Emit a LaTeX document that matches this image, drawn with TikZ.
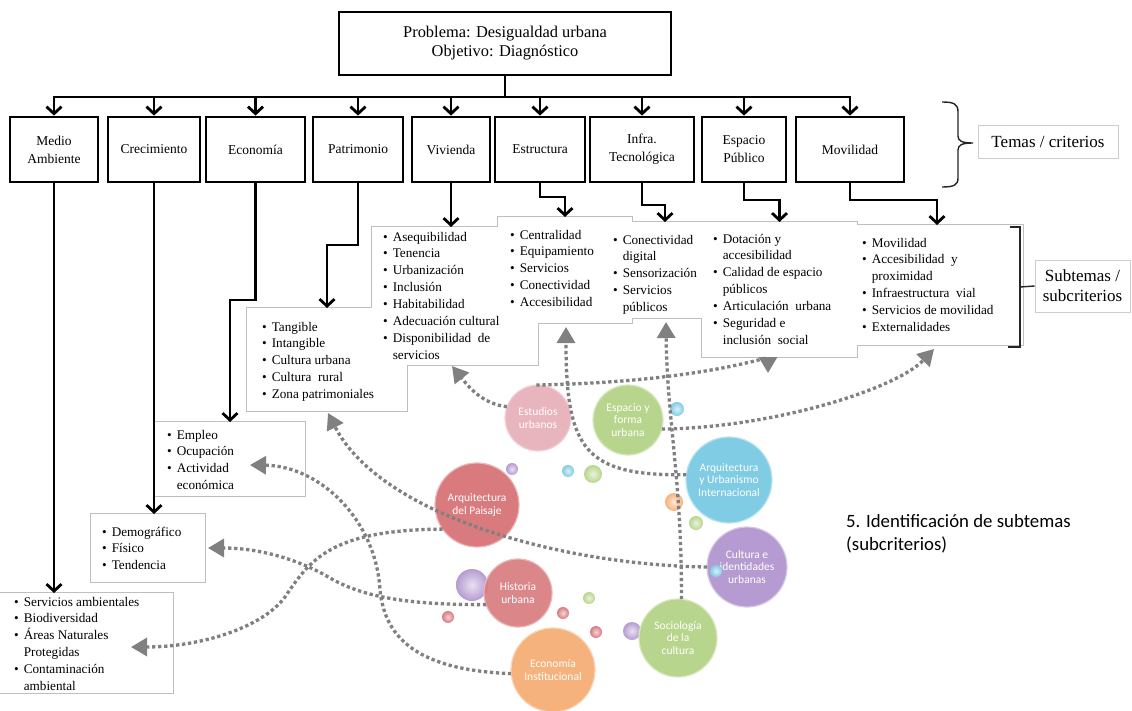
\documentclass[tikz,border=0pt]{standalone}
\usepackage{fontspec}
\setmainfont{Liberation Serif}
\newfontfamily\calib{Carlito}
\usetikzlibrary{arrows.meta}
\pgfdeclarelayer{paper}
\pgfdeclarelayer{boxline}
\pgfdeclarelayer{boxfill}
\pgfsetlayers{paper,boxline,boxfill,main}
\definecolor{dotgray}{HTML}{808080}
\definecolor{frame}{HTML}{BFBFBF}
\definecolor{bpink}{HTML}{E8B4BD}
\definecolor{bgreen}{HTML}{B8D58D}
\definecolor{bblue}{HTML}{80CCE4}
\definecolor{bred}{HTML}{D87A7E}
\definecolor{bpurple}{HTML}{B59BD1}
\definecolor{borange}{HTML}{F6B27C}
\newcommand{\itm}{\textbullet}
\newenvironment{blist}{\begin{tabular}{@{}l@{\hspace{5pt}}l@{}}}{\end{tabular}}

\begin{document}
\begin{tikzpicture}[x=1pt,y=-1pt,
  >={Straight Barb[length=7pt,width=15pt]},
  blk/.style={line width=2.8pt,black},
  tema/.style={draw=black,line width=2.8pt,fill=white,rectangle,minimum height=65pt,
    inner sep=0pt,align=center,font=\fontsize{13.5}{18}\selectfont},
  subarea/.style={rectangle,inner sep=0pt,outer sep=0pt},
  subtxt/.style={anchor=north west,inner sep=0pt,font=\fontsize{13.2}{16.9}\selectfont},
  bub/.style={circle,inner sep=0pt,outer sep=0pt,text=white,align=center,
    font=\calib\fontsize{11.5}{12.7}\selectfont,line width=1.2pt},
  dotlink/.style={dotgray,line width=3.3pt,dash pattern=on 3.3pt off 2.7pt,
    -{Triangle[length=16pt,width=18pt]}},
  brk/.style={line width=1.4pt,black!85},
  labelbox/.style={draw=black!20,line width=0.8pt,fill=white,inner sep=0pt,align=center,
    font=\fontsize{17}{20}\selectfont}
]
\useasboundingbox (0,0) rectangle (1132,711);
\begin{pgfonlayer}{paper}
  \fill[white] (0,0) rectangle (1132,711);
\end{pgfonlayer}

% ---------- problem and themes ----------
\node[tema,minimum width=332pt,minimum height=63pt,font=\fontsize{16.4}{19}\selectfont]
  (tt) at (505,43.5) {Problema: Desigualdad urbana\\Objetivo: Diagnóstico};

\node[tema,minimum width=88pt]  (ma) at (54,149.5)  {Medio\\Ambiente};
\node[tema,minimum width=92pt]  (cr) at (154,149.5) {Crecimiento};
\node[tema,minimum width=99pt]  (ec) at (255.5,149.5) {Economía};
\node[tema,minimum width=90pt]  (pa) at (358,149.5) {Patrimonio};
\node[tema,minimum width=78pt]  (vi) at (451,149.5) {Vivienda};
\node[tema,minimum width=90pt]  (es) at (540,149.5) {Estructura};
\node[tema,minimum width=104pt] (it) at (642,149.5) {Infra.\\Tecnológica};
\node[tema,minimum width=84pt]  (ep) at (744,149.5) {Espacio\\Público};
\node[tema,minimum width=108pt] (mo) at (850,149.5) {Movilidad};

\coordinate (bus) at (505,97);
\draw[blk] (tt.south) -- (tt.south |- bus);
\draw[blk,<->] (ma.north) -- (ma.north |- bus) -- (mo.north |- bus) -- (mo.north);
\foreach \n in {cr,ec,pa,vi,es,it,ep}
  \draw[blk,->] (\n.north |- bus) -- (\n.north);

% ---------- sub-theme areas ----------
\node[subarea,minimum width=160pt,minimum height=103pt] (sPA) at (327,359.5) {};
\node[subarea,minimum width=166pt,minimum height=138pt] (sVI) at (455,296) {};
\node[subarea,minimum width=134pt,minimum height=106pt] (sES) at (565,270) {};
\node[subarea,minimum width=100pt,minimum height=96pt]  (sIN) at (665,270) {};
\node[subarea,minimum width=155pt,minimum height=135pt] (sEP) at (779.5,289.5) {};
\node[subarea,minimum width=172pt,minimum height=120pt] (sMO) at (937,285) {};
\node[subarea,minimum width=150pt,minimum height=74pt]  (sEC) at (230,459) {};
\node[subarea,minimum width=114pt,minimum height=68pt]  (sCR) at (148,548) {};
\node[subarea,minimum width=176pt,minimum height=100pt] (sMA) at (85,643) {};

\begin{pgfonlayer}{boxline}
  \foreach \b in {sPA,sVI,sES,sIN,sEP,sMO,sEC,sCR,sMA}
    \draw[frame,line width=1.6pt] (\b.north west) rectangle (\b.south east);
\end{pgfonlayer}
\begin{pgfonlayer}{boxfill}
  \foreach \b in {sPA,sVI,sES,sIN,sEP,sMO,sEC,sCR,sMA}
    \fill[white] (\b.north west) rectangle (\b.south east);
\end{pgfonlayer}

\node[subtxt] (tPA) at (262,319) {\begin{blist}
  \itm & Tangible\\ \itm & Intangible\\ \itm & Cultura urbana\\
  \itm & Cultura\ \ rural\\ \itm & Zona patrimoniales\end{blist}};
\node[subtxt] (tVI) at (383,229) {\begin{blist}
  \itm & Asequibilidad\\ \itm & Tenencia\\ \itm & Urbanización\\ \itm & Inclusión\\
  \itm & Habitabilidad\\ \itm & Adecuación cultural\\ \itm & Disponibilidad\ \ de\\
  & servicios\end{blist}};
\node[subtxt] (tES) at (510,227) {\begin{blist}
  \itm & Centralidad\\ \itm & Equipamiento\\ \itm & Servicios\\
  \itm & Conectividad\\ \itm & Accesibilidad\end{blist}};
\node[subtxt] (tIN) at (613,232) {\begin{blist}
  \itm & Conectividad\\ & digital\\ \itm & Sensorización\\
  \itm & Servicios\\ & públicos\end{blist}};
\node[subtxt] (tEP) at (713,231) {\begin{blist}
  \itm & Dotación y\\ & accesibilidad\\ \itm & Calidad de espacio\\ & públicos\\
  \itm & Articulación\ \ urbana\\ \itm & Seguridad e\\ & inclusión\ \ social\end{blist}};
\node[subtxt] (tMO) at (862,235) {\begin{blist}
  \itm & Movilidad\\ \itm & Accesibilidad\ \ y\\ & proximidad\\
  \itm & Infraestructura\ \ vial\\ \itm & Servicios de movilidad\\
  \itm & Externalidades\end{blist}};
\node[subtxt] (tEC) at (167,427) {\begin{blist}
  \itm & Empleo\\ \itm & Ocupación\\ \itm & Actividad\\ & económica\end{blist}};
\node[subtxt] (tCR) at (102,524) {\begin{blist}
  \itm & Demográfico\\ \itm & Físico\\ \itm & Tendencia\end{blist}};
\node[subtxt] (tMA) at (14,594) {\begin{blist}
  \itm & Servicios ambientales\\ \itm & Biodiversidad\\ \itm & Áreas Naturales\\
  & Protegidas\\ \itm & Contaminación\\ & ambiental\end{blist}};

% ---------- theme to sub-theme connectors ----------
\draw[blk,->] (ma.south) -- (ma.south |- sMA.north);
\draw[blk,->] (cr.south) -- (cr.south |- sCR.north);
\draw[blk,->] (ec.south) -- (ec.south |- 0,300) -| (sEC.north);
\draw[blk,->] (pa.south) -- (pa.south |- 0,245) -| (sPA.north);
\draw[blk,->] (vi.south) -- (vi.south |- sVI.north);
\draw[blk,->] (es.south) -- (es.south |- 0,197) -| (sES.north);
\draw[blk,->] (it.south) -- (it.south |- 0,205) -| (sIN.north);
\draw[blk,->] (ep.south) -- (ep.south |- 0,200) -| (sEP.north);
\draw[blk,->] (mo.south) -- (mo.south |- 0,200) -| (sMO.north);

% ---------- side labels ----------
\node[labelbox,minimum width=140pt,minimum height=33pt] (temas) at (1048,141.5) {Temas / criterios};
\draw[brk] (942,102) .. controls (954,102) and (958,104) .. (958,112) -- (958,136)
  .. controls (958,141) and (962,143) .. (973,143)
  .. controls (962,143) and (958,145) .. (958,150) -- (958,178)
  .. controls (958,185) and (954,187) .. (942,187);

\node[labelbox,minimum width=95pt,minimum height=52pt] (subt) at (1082.5,286) {Subtemas /\\subcriterios};
\draw[brk] (1010,227) -- (1020,227) -- (1020,347) -- (1008,347);
\draw[brk] (1020,287) -- (subt.west);

\node[anchor=north west,inner sep=0pt,align=left,font=\calib\fontsize{18.8}{23}\selectfont]
  (step5) at (846,514) {5. Identificación de subtemas\\(subcriterios)};

% ---------- disciplines ----------
\shade[inner color=bpurple!30!white,outer color=bpurple] (472,585) circle (16pt);
\shade[inner color=bpurple!30!white,outer color=bpurple] (512,469) circle (6pt);
\shade[inner color=bblue!30!white,outer color=bblue] (568,471) circle (6pt);
\shade[inner color=bgreen!30!white,outer color=bgreen] (593,474) circle (9pt);
\shade[inner color=bblue!30!white,outer color=bblue] (677,409) circle (7pt);
\shade[inner color=bred!30!white,outer color=bred] (448,617) circle (6pt);
\shade[inner color=bred!30!white,outer color=bred] (563,613) circle (6pt);
\shade[inner color=bgreen!30!white,outer color=bgreen] (589,598) circle (6pt);
\shade[inner color=bred!30!white,outer color=bred] (596,632) circle (6pt);
\shade[inner color=bpurple!30!white,outer color=bpurple] (632,631) circle (9pt);

\node[bub,minimum size=66pt,fill=bpink,draw=bpink!55!white]    (eu)  at (538,418) {Estudios\\urbanos};
\node[bub,minimum size=70pt,fill=bgreen,draw=bgreen!55!white]  (ef)  at (628,420) {Espacio y\\forma\\urbana};
\node[bub,minimum size=86pt,fill=bblue,draw=bblue!55!white]    (aui) at (729,480) {Arquitectura\\y Urbanismo\\Internacional};
\node[bub,minimum size=84pt,fill=bred,draw=bred!55!white]      (lp)  at (477,505) {Arquitectura\\del Paisaje};
\node[bub,minimum size=80pt,fill=bpurple,draw=bpurple!55!white] (cul) at (747,567) {Cultura e\\identidades\\urbanas};
\node[bub,minimum size=68pt,fill=bred,draw=bred!55!white,fill opacity=0.9,text opacity=1] (hu) at (518,593) {Historia\\urbana};
\node[bub,minimum size=78pt,fill=bgreen,draw=bgreen!55!white]  (sc)  at (678,638) {Sociología\\de la\\cultura};
\node[bub,minimum size=84pt,fill=borange,draw=borange!55!white] (ei) at (553,670) {Economía\\Institucional};

\shade[inner color=borange!30!white,outer color=borange] (674,502) circle (9pt);
\shade[inner color=bgreen!30!white,outer color=bgreen] (696,523) circle (7pt);
\shade[inner color=bblue!30!white,outer color=bblue] (716,571) circle (6pt);

% ---------- discipline to sub-theme links ----------
\coordinate (tipA) at (452,366);
\coordinate (tipB) at (768,373);
\coordinate (tipC) at (934,349);
\coordinate (tipD) at (566,327);
\coordinate (tipE) at (666,322);
\coordinate (tipF) at (328,413);
\coordinate (tipG) at (131,647);
\coordinate (tipH) at (208,548);
\coordinate (tipI) at (250,465);

\draw[dotlink] (eu.160) .. controls (482,404) and (468,386) .. (tipA);
\draw[dotlink] (eu.93) .. controls (700,382) and (768,356) .. (tipB);
\draw[dotlink] (ef.-15) .. controls (770,428) and (895,390) .. (tipC);
\draw[dotlink] (aui.173) .. controls (585,476) and (566,450) .. (tipD);
\draw[dotlink] (sc.85) .. controls (682,480) and (667,420) .. (tipE);
\draw[dotlink] (cul.west) .. controls (560,565) and (380,515) .. (tipF);
\draw[dotlink] (lp.215) .. controls (330,530) and (310,560) .. (285,597)
  .. controls (262,628) and (200,647) .. (tipG);
\draw[dotlink] (hu.200) .. controls (400,605) and (360,595) .. (330,578)
  .. controls (300,560) and (260,548) .. (tipH);
\draw[dotlink] (ei.185) .. controls (420,670) and (385,640) .. (380,590)
  .. controls (376,520) and (320,466) .. (tipI);
\end{tikzpicture}
\end{document}
